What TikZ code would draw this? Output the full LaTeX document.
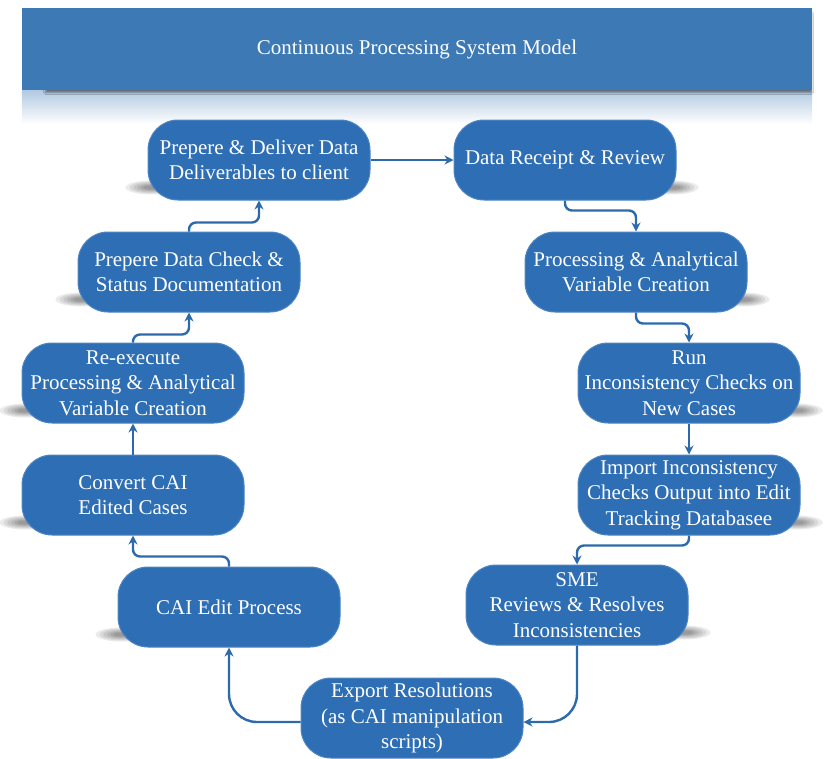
\documentclass[tikz,border=0pt]{standalone}
\usepackage{fontspec}
\setmainfont{Liberation Serif}
\usetikzlibrary{shadows.blur,arrows.meta,backgrounds}
\definecolor{nodeblue}{RGB}{46,110,180}
\definecolor{nodeedge}{RGB}{78,134,194}
\definecolor{titleblue}{RGB}{60,121,181}
\definecolor{linkblue}{RGB}{44,106,172}
\newcommand\mystreak[1]{%
  \foreach \k in {1,0.85,0.7,0.55,0.42,0.3}{%
    \fill[black, opacity=0.08] (#1) ellipse [x radius={26pt*\k}, y radius={7pt*\k}];}}
\begin{document}
\begin{tikzpicture}[x=1pt,y=-1pt,
  proc/.style={draw=nodeedge, line width=1pt, fill=nodeblue, rounded corners=30pt,
    minimum width=222pt, minimum height=80pt, inner sep=2pt, text=white, align=center,
    font=\fontsize{21}{25.5}\selectfont},
  link/.style={draw=linkblue, line width=2.4pt, rounded corners=7pt, -{Stealth[length=9pt,width=9pt]}},
  bigturn/.style={rounded corners=28pt}]
\useasboundingbox (0,0) rectangle (826,758);
% title bar
\node[fill=titleblue, minimum width=790pt, minimum height=82pt, inner sep=0pt, text=white,
  font=\fontsize{21}{25}\selectfont,
  blur shadow={shadow xshift=12pt, shadow yshift=-4pt, shadow scale=0.97, shadow opacity=45, shadow blur steps=8}]
  (title) at (417,49) {Continuous Processing System Model};
% nodes
\node[proc] (n1) at (259,160) {Prepere \& Deliver Data\\Deliverables to client};
\node[proc] (n2) at (565,160) {Data Receipt \& Review};
\node[proc] (n3) at (636,272) {Processing \& Analytical\\Variable Creation};
\node[proc] (n4) at (689,383) {Run\\Inconsistency Checks on\\New Cases};
\node[proc] (n5) at (689,495) {Import Inconsistency\\Checks Output into Edit\\Tracking Databasee};
\node[proc] (n6) at (577,605) {SME\\Reviews \& Resolves\\Inconsistencies};
\node[proc] (n7) at (412,718) {Export Resolutions\\(as CAI manipulation\\scripts)};
\node[proc] (n8) at (229,607) {CAI Edit Process};
\node[proc] (n9) at (133,495) {Convert CAI\\Edited Cases};
\node[proc] (n10) at (133,383) {Re-execute\\Processing \& Analytical\\Variable Creation};
\node[proc] (n11) at (189,272) {Prepere Data Check \&\\Status Documentation};
% background: white, title reflection, shadows
\begin{scope}[on background layer]
  \fill[white] (0,0) rectangle (826,758);
  \shade[top color=titleblue!40!white, bottom color=white] (title.south west) rectangle ([yshift=-34pt]title.south east);
  \foreach \n in {n1,n8,n9,n10,n11}{\mystreak{[xshift=4pt,yshift=13pt]\n.south west}}
  \foreach \n in {n2,n3,n4,n5,n6}{\mystreak{[xshift=-4pt,yshift=13pt]\n.south east}}
\end{scope}
% connectors
\draw[link] (n1.east) -- (n2.west);
\draw[link] (n2.south) -- ++(0,10) -| (n3.north);
\draw[link] (n3.south) -- ++(0,11) -| (n4.north);
\draw[link] (n4.south) -- (n5.north);
\draw[link] (n5.south) -- ++(0,10) -| (n6.north);
\draw[link, bigturn] (n6.south) |- ([yshift=-4pt]n7.east);
\draw[link, bigturn] ([yshift=-4pt]n7.west) -| (n8.south);
\draw[link] (n8.north) -- ++(0,-10) -| (n9.south);
\draw[link] (n9.north) -- (n10.south);
\draw[link] (n10.north) -- ++(0,-8) -| (n11.south);
\draw[link] (n11.north) -- ++(0,-9) -| (n1.south);
\end{tikzpicture}
\end{document}
